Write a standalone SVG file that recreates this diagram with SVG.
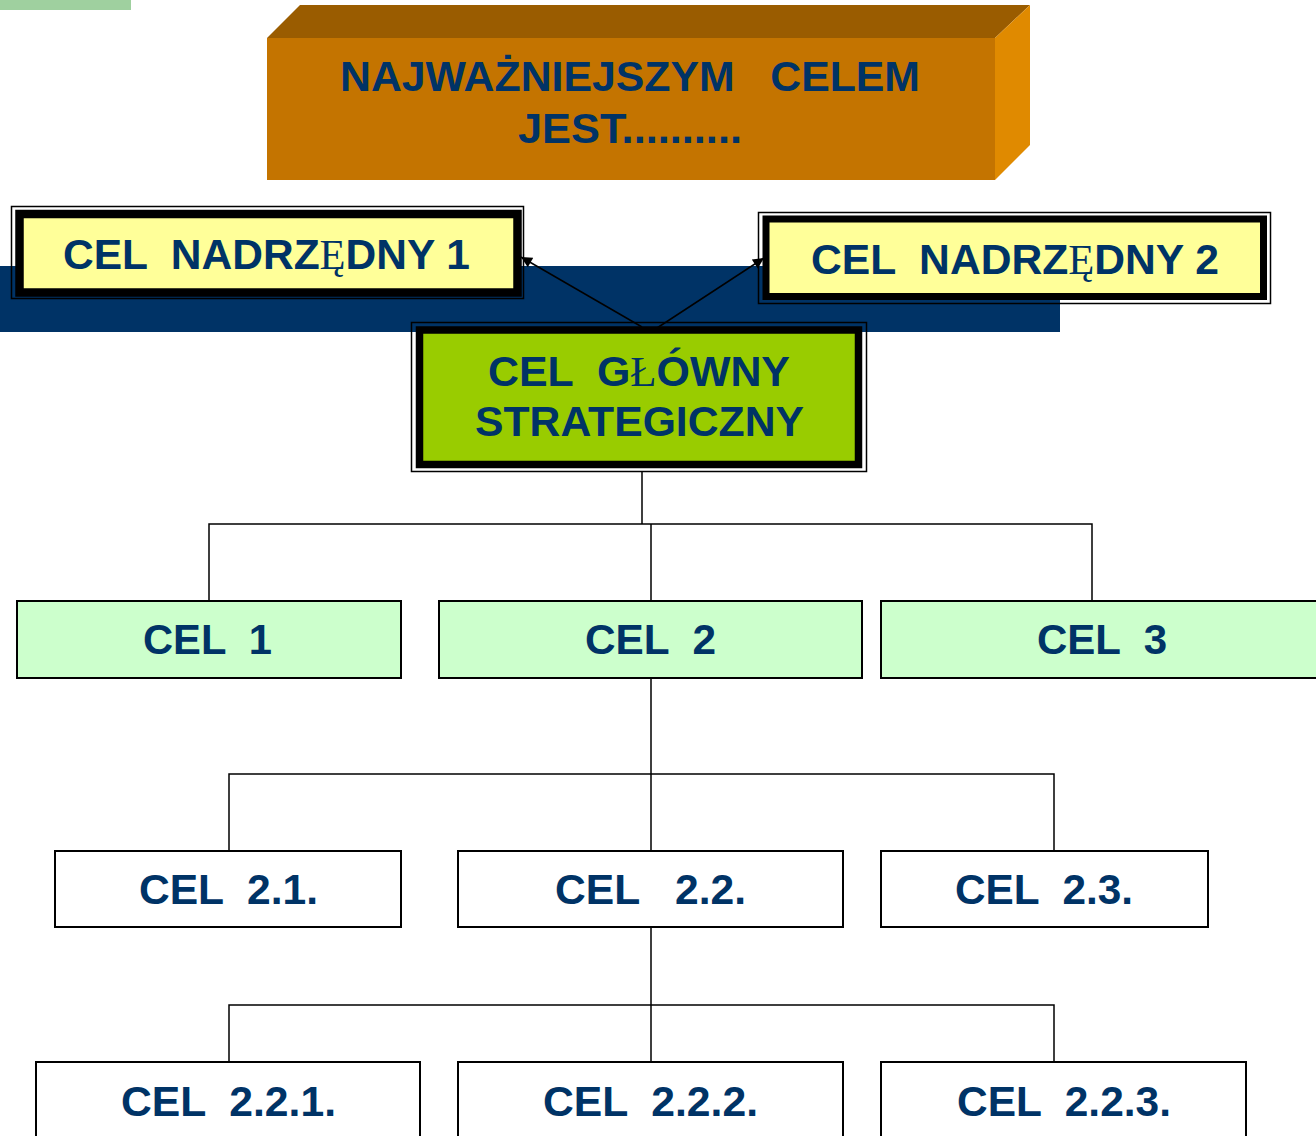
<svg xmlns="http://www.w3.org/2000/svg" width="1316" height="1136" viewBox="0 0 1316 1136" xml:space="preserve">
<style>
.t{font-family:"Liberation Sans",Arial,sans-serif;font-weight:bold;font-size:43px;fill:#003366;white-space:pre}
.s{font-family:"Liberation Serif","Times New Roman",serif;font-weight:normal}
.thin{fill:none;stroke:#000;stroke-width:1.5}
.box2{fill:#ccffcc;stroke:#000;stroke-width:2}
.box3{fill:#fff;stroke:#000;stroke-width:2}
.con{fill:none;stroke:#000;stroke-width:1.5}
</style>
<defs>
<marker id="ah" viewBox="0 0 10 10" refX="10" refY="5" markerWidth="13" markerHeight="11" markerUnits="userSpaceOnUse" orient="auto"><path d="M0,0 L10,5 L0,10 z" fill="#000"/></marker>
</defs>
<rect width="1316" height="1136" fill="#fff"/>
<rect x="0" y="0" width="131" height="10" fill="#9fd09f"/>
<rect x="0" y="266" width="1060" height="66" fill="#003366"/>

<g id="top">
<polygon points="267,38 300,5 1030,5 995,38" fill="#9a5c00"/>
<polygon points="995,38 1030,5 1030,145 995,180" fill="#e08a00"/>
<rect x="267" y="38" width="728" height="142" fill="#c47400"/>
<text class="t" x="340" y="91" textLength="580" lengthAdjust="spacingAndGlyphs">NAJWAŻNIEJSZYM   CELEM</text>
<text class="t" x="518" y="143" textLength="224" lengthAdjust="spacingAndGlyphs">JEST..........</text>
</g>

<g id="nadrzedny1">
<rect class="thin" x="11.5" y="206.5" width="512" height="92"/>
<rect x="19.5" y="214" width="498" height="78.5" fill="#ffff99" stroke="#000" stroke-width="8.5"/>
<text class="t" x="63" y="269" textLength="407" lengthAdjust="spacingAndGlyphs">CEL  NADRZ<tspan class="s">Ę</tspan>DNY 1</text>
</g>

<g id="nadrzedny2">
<rect class="thin" x="758.5" y="212.5" width="512" height="91"/>
<rect x="766" y="219" width="497.5" height="77.5" fill="#ffff99" stroke="#000" stroke-width="7"/>
<text class="t" x="811" y="274" textLength="408" lengthAdjust="spacingAndGlyphs">CEL  NADRZ<tspan class="s">Ę</tspan>DNY 2</text>
</g>

<g id="glowny">
<rect class="thin" x="411.5" y="322.5" width="455" height="149"/>
<rect x="419.5" y="330" width="439" height="134.5" fill="#99cc00" stroke="#000" stroke-width="7.5"/>
<text class="t" x="488" y="386" textLength="302" lengthAdjust="spacingAndGlyphs">CEL  G<tspan class="s">Ł</tspan>ÓWNY</text>
<text class="t" x="475" y="436" textLength="329" lengthAdjust="spacingAndGlyphs">STRATEGICZNY</text>
</g>

<g id="connectors">
<line class="con" x1="642" y1="327" x2="521" y2="257" marker-end="url(#ah)"/>
<line class="con" x1="657" y1="328" x2="764" y2="258" marker-end="url(#ah)"/>
<path class="con" d="M642,472 V524 M209,601 V524 H1092 V601 M651,524 V601"/>
<path class="con" d="M651,678 V774 M229,851 V774 H1054 V851 M651,774 V851"/>
<path class="con" d="M651,927 V1005 M229,1062 V1005 H1054 V1062 M651,1005 V1062"/>
</g>

<g id="cel1"><rect class="box2" x="17" y="601" width="384" height="77"/><text class="t" x="143" y="654" textLength="129" lengthAdjust="spacingAndGlyphs">CEL  1</text></g>
<g id="cel2"><rect class="box2" x="439" y="601" width="423" height="77"/><text class="t" x="585" y="654" textLength="131" lengthAdjust="spacingAndGlyphs">CEL  2</text></g>
<g id="cel3"><rect class="box2" x="881" y="601" width="445" height="77"/><text class="t" x="1037" y="654" textLength="130" lengthAdjust="spacingAndGlyphs">CEL  3</text></g>

<g id="cel21"><rect class="box3" x="55" y="851" width="346" height="76"/><text class="t" x="139" y="904" textLength="179" lengthAdjust="spacingAndGlyphs">CEL  2.1.</text></g>
<g id="cel22"><rect class="box3" x="458" y="851" width="385" height="76"/><text class="t" x="555" y="904" textLength="191" lengthAdjust="spacingAndGlyphs">CEL   2.2.</text></g>
<g id="cel23"><rect class="box3" x="881" y="851" width="327" height="76"/><text class="t" x="955" y="904" textLength="178" lengthAdjust="spacingAndGlyphs">CEL  2.3.</text></g>

<g id="cel221"><rect class="box3" x="36" y="1062" width="384" height="80"/><text class="t" x="121" y="1116" textLength="215" lengthAdjust="spacingAndGlyphs">CEL  2.2.1.</text></g>
<g id="cel222"><rect class="box3" x="458" y="1062" width="385" height="80"/><text class="t" x="543" y="1116" textLength="215" lengthAdjust="spacingAndGlyphs">CEL  2.2.2.</text></g>
<g id="cel223"><rect class="box3" x="881" y="1062" width="365" height="80"/><text class="t" x="957" y="1116" textLength="214" lengthAdjust="spacingAndGlyphs">CEL  2.2.3.</text></g>
</svg>
